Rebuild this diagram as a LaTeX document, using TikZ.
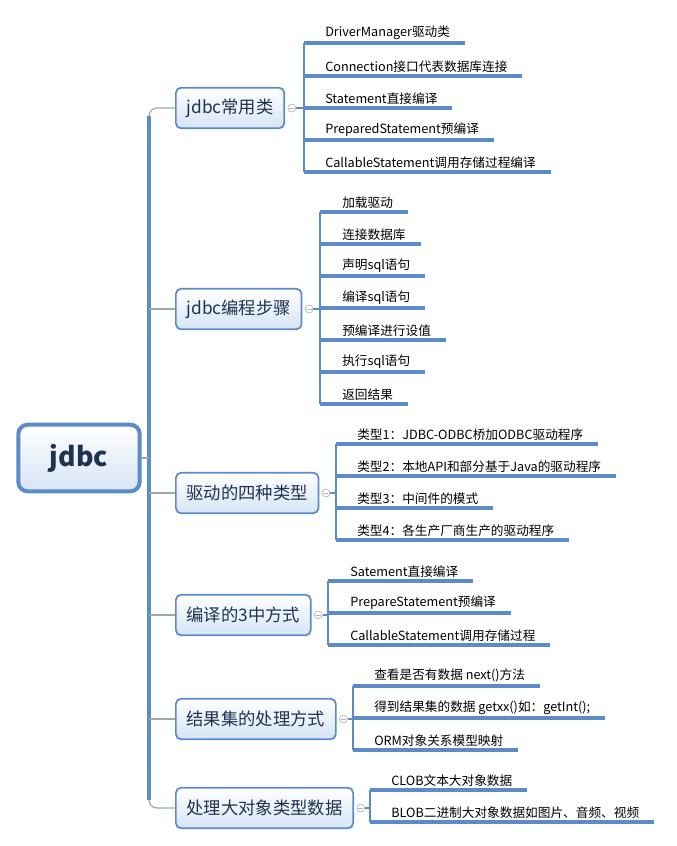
\documentclass[tikz,border=0pt]{standalone}
\usepackage{fontspec}
\setmainfont{Noto Sans CJK SC}
\definecolor{mblue}{HTML}{5B8BC9}
\definecolor{lblue}{HTML}{D6E4F5}
\definecolor{tblue}{HTML}{1F3350}
\newcommand{\lf}[5]{%
  \coordinate (#1c) at (#2,#4);
  \node[leaf] (#1) at (#3,#4) {#5};
  \draw[ul] (#1c) -- ([xshift=11pt]#1.south east);
}
\begin{document}
\begin{tikzpicture}[x=0.75pt,y=-0.75pt,
  br/.style={draw=mblue,line width=1.3pt,rounded corners=4pt,top color=white,bottom color=lblue,minimum height=30.5pt,inner xsep=8pt,anchor=west,text=tblue,font=\fontsize{13}{15}\selectfont},
  leaf/.style={anchor=south west,inner xsep=0pt,inner ysep=2.5pt,text=black,font=\fontsize{9.5}{11}\selectfont},
  ul/.style={draw=mblue,line width=2.4pt},
  thin/.style={draw=mblue,line width=0.8pt},
  conn/.style={draw=gray!70,line width=0.9pt},
  knob/.style={circle,draw=gray!60,fill=white,inner sep=0pt,minimum size=6pt,line width=0.5pt}]
\useasboundingbox (0,0) rectangle (676,846);
% root
\node[draw=mblue,line width=3pt,rounded corners=7pt,top color=white,bottom color=lblue,minimum width=91pt,minimum height=50pt,text=tblue,font=\bfseries\fontsize{20}{22}\selectfont] (root) at (79,458) {jdbc};
\coordinate (sp) at (149,458);
\coordinate (spt) at (149,116);
\coordinate (spb) at (149,800);
\draw[mblue,line width=3.2pt] (spt) -- (spb);
\draw[conn] (root.east) -- (sp);
% branches
\node[br] (b1) at (175,108) {jdbc常用类};
\node[br] (b2) at (175,309) {jdbc编程步骤};
\node[br] (b3) at (175,493) {驱动的四种类型};
\node[br] (b4) at (175,615) {编译的3中方式};
\node[br] (b5) at (175,719) {结果集的处理方式};
\node[br] (b6) at (175,808) {处理大对象类型数据};
\draw[conn,rounded corners=6pt] (b1.west) -- (149,108) -- (spt);
\draw[conn,rounded corners=6pt] (b6.west) -- (149,808) -- (spb);
\foreach \n in {b2,b3,b4,b5}{\draw[conn] (\n.west) -- (\n.west -| sp);}
\foreach \n in {b1,b2,b3,b4,b5,b6}{
  \node[knob] (k\n) at ([xshift=5pt]\n.east) {};
  \draw[gray!60,line width=0.5pt] ([xshift=-1.8pt]k\n.center) -- ([xshift=1.8pt]k\n.center);
}
% group 1
\lf{a1}{304}{325}{43}{DriverManager驱动类}
\lf{a2}{304}{325}{76}{Connection接口代表数据库连接}
\lf{a3}{304}{325}{108}{Statement直接编译}
\lf{a4}{304}{325}{140}{PreparedStatement预编译}
\lf{a5}{304}{325}{172}{CallableStatement调用存储过程编译}
\draw[thin] (a1c) -- (a5c);
\draw[thin] (kb1.east) -- (a3c);
% group 2
\lf{c1}{320}{342}{212}{加载驱动}
\lf{c2}{320}{342}{244}{连接数据库}
\lf{c3}{320}{342}{276}{声明sql语句}
\lf{c4}{320}{342}{308}{编译sql语句}
\lf{c5}{320}{342}{340}{预编译进行设值}
\lf{c6}{320}{342}{372}{执行sql语句}
\lf{c7}{320}{342}{404}{返回结果}
\draw[thin] (c1c) -- (c7c);
\draw[thin] (kb2.east) -- (kb2.east -| c1c);
% group 3
\lf{d1}{336}{357}{444}{类型1：JDBC-ODBC桥加ODBC驱动程序}
\lf{d2}{336}{357}{476}{类型2：本地API和部分基于Java的驱动程序}
\lf{d3}{336}{357}{508}{类型3：中间件的模式}
\lf{d4}{336}{357}{540}{类型4：各生产厂商生产的驱动程序}
\draw[thin] (d1c) -- (d4c);
\draw[thin] (kb3.east) -- (kb3.east -| d1c);
% group 4
\lf{e1}{328}{350}{581}{Satement直接编译}
\lf{e2}{328}{350}{613}{PrepareStatement预编译}
\lf{e3}{328}{350}{645}{CallableStatement调用存储过程}
\draw[thin] (e1c) -- (e3c);
\draw[thin] (kb4.east) -- (kb4.east -| e1c);
% group 5
\lf{f1}{353}{374}{686}{查看是否有数据 next()方法}
\lf{f2}{353}{374}{718}{得到结果集的数据 getxx()如：getInt();}
\lf{f3}{353}{374}{750}{ORM对象关系模型映射}
\draw[thin] (f1c) -- (f3c);
\draw[thin] (kb5.east) -- (kb5.east -| f1c);
% group 6
\lf{g1}{370}{391}{790}{CLOB文本大对象数据}
\lf{g2}{370}{391}{822}{BLOB二进制大对象数据如图片、音频、视频}
\draw[thin] (g1c) -- (g2c);
\draw[thin] (kb6.east) -- (kb6.east -| g1c);
\end{tikzpicture}
\end{document}
